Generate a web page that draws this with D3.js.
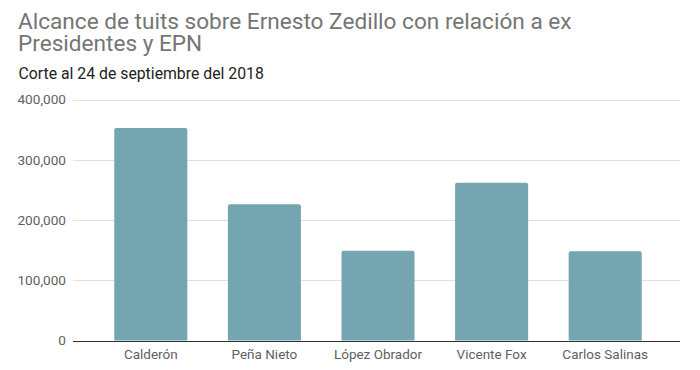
<!DOCTYPE html>
<html>
<head>
<meta charset="utf-8">
<script src="https://cdn.jsdelivr.net/npm/d3@7"></script>
<style>
  html, body { margin: 0; padding: 0; background: #fff; }
  svg { display: block; font-family: Roboto, "Noto Sans", sans-serif; }
</style>
</head>
<body>
<svg id="chart" width="700" height="370"></svg>
<script>
const categories = ["Calderón", "Peña Nieto", "López Obrador", "Vicente Fox", "Carlos Salinas"];
const values = [352500, 226000, 149000, 262000, 148000];
const yTicks = [0, 100000, 200000, 300000, 400000];
const titleLines = ["Alcance de tuits sobre Ernesto Zedillo con relación a ex", "Presidentes y EPN"];
const subtitle = "Corte al 24 de septiembre del 2018";

const svg = d3.select("#chart");
const plotLeft = 73, plotRight = 680;

const x = d3.scaleBand().domain(categories).range([94, 662]).paddingInner(0.357).paddingOuter(0.1785);
const y = d3.scaleLinear().domain([0, 400000]).range([340.5, 99.5]);

// title
svg.append("text").attr("x", 18).attr("y", 28.5)
  .attr("font-size", 22.6).attr("fill", "#757575")
  .selectAll("tspan").data(titleLines).join("tspan")
  .attr("x", 18).attr("dy", (d, i) => i === 0 ? 0 : 22).text(d => d);

svg.append("text").attr("x", 18.5).attr("y", 78.5)
  .attr("font-size", 15.8).attr("fill", "#222").text(subtitle);

// gridlines
svg.append("g").selectAll("line").data(yTicks.filter(d => d > 0)).join("line")
  .attr("x1", plotLeft).attr("x2", plotRight)
  .attr("y1", d => Math.round(y(d)) + 0.5).attr("y2", d => Math.round(y(d)) + 0.5)
  .attr("stroke", "#e0e0e0").attr("stroke-width", 1);

// y labels
svg.append("g").selectAll("text").data(yTicks).join("text")
  .attr("x", 66).attr("y", d => y(d) + 4.8)
  .attr("text-anchor", "end").attr("font-size", 13.6).attr("fill", "#5f5f5f")
  .text(d => d3.format(",")(d));

// bars with slightly rounded top
const r = 2;
svg.append("g").selectAll("path").data(categories).join("path")
  .attr("fill", "#74a5b0")
  .attr("d", (c, i) => {
    const x0 = x(c), w = x.bandwidth(), y0 = y(values[i]), yb = y(0);
    return `M${x0},${yb}V${y0 + r}Q${x0},${y0} ${x0 + r},${y0}H${x0 + w - r}Q${x0 + w},${y0} ${x0 + w},${y0 + r}V${yb}Z`;
  });

// baseline
svg.append("line").attr("x1", plotLeft).attr("x2", plotRight)
  .attr("y1", Math.round(y(0)) + 0.5).attr("y2", Math.round(y(0)) + 0.5)
  .attr("stroke", "#333").attr("stroke-width", 1);

// x labels
svg.append("g").selectAll("text").data(categories).join("text")
  .attr("x", c => x(c) + x.bandwidth() / 2).attr("y", 358.5)
  .attr("text-anchor", "middle").attr("font-size", 13.5).attr("fill", "#5f5f5f")
  .text(c => c);
</script>
</body>
</html>
